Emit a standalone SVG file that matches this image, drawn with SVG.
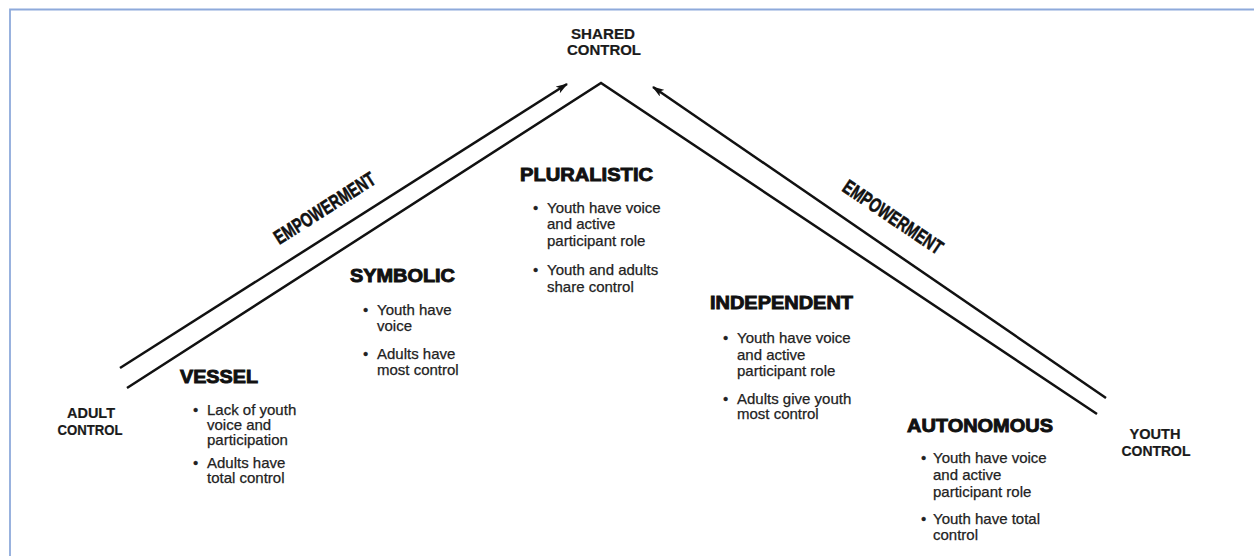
<svg xmlns="http://www.w3.org/2000/svg" width="1254" height="556" viewBox="0 0 1254 556">
<style>
.lbl{font-family:"Liberation Sans",Arial,sans-serif;font-weight:bold;font-size:14px;fill:#1a1a1a;text-anchor:middle;stroke:#1a1a1a;stroke-width:0.2}
.hd{font-family:"Liberation Sans",Arial,sans-serif;font-weight:bold;font-size:18px;fill:#111;stroke:#111;stroke-width:0.9}
.tx{font-family:"Liberation Sans",Arial,sans-serif;font-size:15px;fill:#222;stroke:#222;stroke-width:0.25}
.emp{font-family:"Liberation Sans",Arial,sans-serif;font-weight:bold;font-size:20px;fill:#111;text-anchor:middle;stroke:#111;stroke-width:0.6}
.ln{stroke:#111;stroke-width:2.5;fill:none}
</style>
<defs>
<marker id="ah" viewBox="0 0 12 8" refX="11" refY="4" markerWidth="12" markerHeight="8" markerUnits="userSpaceOnUse" orient="auto">
<path d="M0,0 L12,4 L0,8 L3,4 Z" fill="#111"/>
</marker>
</defs>
<rect width="1254" height="556" fill="#fff"/>
<path d="M10,556 V9.5 H1254" fill="none" stroke="#8eaadb" stroke-width="1.8"/>

<g id="connectors">
<polyline class="ln" points="127,388 601,83 1097,414"/>
<line class="ln" x1="120" y1="368" x2="567" y2="84" marker-end="url(#ah)"/>
<line class="ln" x1="1106" y1="398" x2="653" y2="87" marker-end="url(#ah)"/>
</g>

<g id="shared-control">
<text class="lbl" x="603" y="39" textLength="64" lengthAdjust="spacingAndGlyphs">SHARED</text>
<text class="lbl" x="604" y="55" textLength="74" lengthAdjust="spacingAndGlyphs">CONTROL</text>
</g>
<g id="adult-control">
<text class="lbl" x="91" y="418" textLength="48" lengthAdjust="spacingAndGlyphs">ADULT</text>
<text class="lbl" x="90" y="435" textLength="65" lengthAdjust="spacingAndGlyphs">CONTROL</text>
</g>
<g id="youth-control">
<text class="lbl" x="1155" y="439" textLength="51" lengthAdjust="spacingAndGlyphs">YOUTH</text>
<text class="lbl" x="1156" y="456" textLength="69" lengthAdjust="spacingAndGlyphs">CONTROL</text>
</g>

<g id="empowerment-left">
<text class="emp" transform="translate(324.5,208) rotate(-32.4)" x="0" y="7" textLength="116" lengthAdjust="spacingAndGlyphs">EMPOWERMENT</text>
</g>
<g id="empowerment-right">
<text class="emp" transform="translate(893,217) rotate(34)" x="0" y="7" textLength="116" lengthAdjust="spacingAndGlyphs">EMPOWERMENT</text>
</g>

<g id="vessel">
<text class="hd" x="180" y="383" textLength="78" lengthAdjust="spacingAndGlyphs">VESSEL</text>
<text class="tx" x="193" y="415">•</text>
<text class="tx" x="207" y="415">Lack of youth</text>
<text class="tx" x="207" y="430">voice and</text>
<text class="tx" x="207" y="445">participation</text>
<text class="tx" x="193" y="468">•</text>
<text class="tx" x="207" y="468">Adults have</text>
<text class="tx" x="207" y="483">total control</text>
</g>

<g id="symbolic">
<text class="hd" x="350" y="282" textLength="105" lengthAdjust="spacingAndGlyphs">SYMBOLIC</text>
<text class="tx" x="363" y="315">•</text>
<text class="tx" x="377" y="315">Youth have</text>
<text class="tx" x="377" y="331">voice</text>
<text class="tx" x="363" y="359">•</text>
<text class="tx" x="377" y="359">Adults have</text>
<text class="tx" x="377" y="375">most control</text>
</g>

<g id="pluralistic">
<text class="hd" x="520" y="181" textLength="133" lengthAdjust="spacingAndGlyphs">PLURALISTIC</text>
<text class="tx" x="533" y="213">•</text>
<text class="tx" x="547" y="213">Youth have voice</text>
<text class="tx" x="547" y="229">and active</text>
<text class="tx" x="547" y="246">participant role</text>
<text class="tx" x="533" y="275">•</text>
<text class="tx" x="547" y="275">Youth and adults</text>
<text class="tx" x="547" y="292">share control</text>
</g>

<g id="independent">
<text class="hd" x="710" y="309" textLength="143" lengthAdjust="spacingAndGlyphs">INDEPENDENT</text>
<text class="tx" x="723" y="343">•</text>
<text class="tx" x="737" y="343">Youth have voice</text>
<text class="tx" x="737" y="360">and active</text>
<text class="tx" x="737" y="376">participant role</text>
<text class="tx" x="723" y="404">•</text>
<text class="tx" x="737" y="404">Adults give youth</text>
<text class="tx" x="737" y="419">most control</text>
</g>

<g id="autonomous">
<text class="hd" x="907" y="432" textLength="146" lengthAdjust="spacingAndGlyphs">AUTONOMOUS</text>
<text class="tx" x="921" y="463">•</text>
<text class="tx" x="933" y="463">Youth have voice</text>
<text class="tx" x="933" y="480">and active</text>
<text class="tx" x="933" y="497">participant role</text>
<text class="tx" x="921" y="524">•</text>
<text class="tx" x="933" y="524">Youth have total</text>
<text class="tx" x="933" y="540">control</text>
</g>
</svg>
